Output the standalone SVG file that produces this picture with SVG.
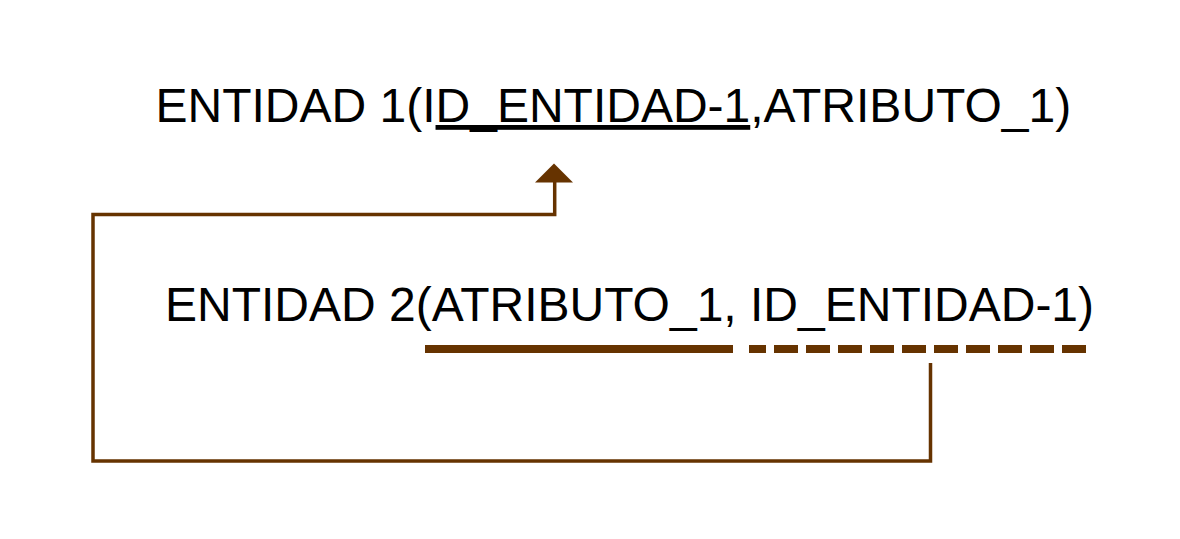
<svg xmlns="http://www.w3.org/2000/svg" width="1180" height="539" viewBox="0 0 1180 539">
<style>
.t{font-family:"Liberation Sans",Arial,sans-serif;font-size:48px;fill:#000}
.c{fill:none;stroke:#663300;stroke-width:3.5}
.u{fill:none;stroke:#663300;stroke-width:8}
</style>
<rect width="1180" height="539" fill="#fff"/>
<g id="entidad1">
<text class="t" x="155.5" y="122">ENTIDAD 1(I<tspan style="text-decoration:underline">D_ENTIDAD-1</tspan>,ATRIBUTO_1)</text>
</g>
<g id="entidad2">
<text class="t" x="165" y="320.5">ENTIDAD 2(ATRIBUTO_1, ID_ENTIDAD-1)</text>
<line class="u" x1="425" y1="349" x2="733" y2="349"/>
<line class="u" x1="749" y1="349" x2="1088" y2="349" stroke-dasharray="24 8" stroke-dashoffset="7"/>
</g>
<g id="connectors">
<path class="c" d="M930.5,363 V461 H93 V214.5 H554.7 V181"/>
<polygon points="535,182.5 573,182.5 554,163.5" fill="#663300"/>
</g>
</svg>
